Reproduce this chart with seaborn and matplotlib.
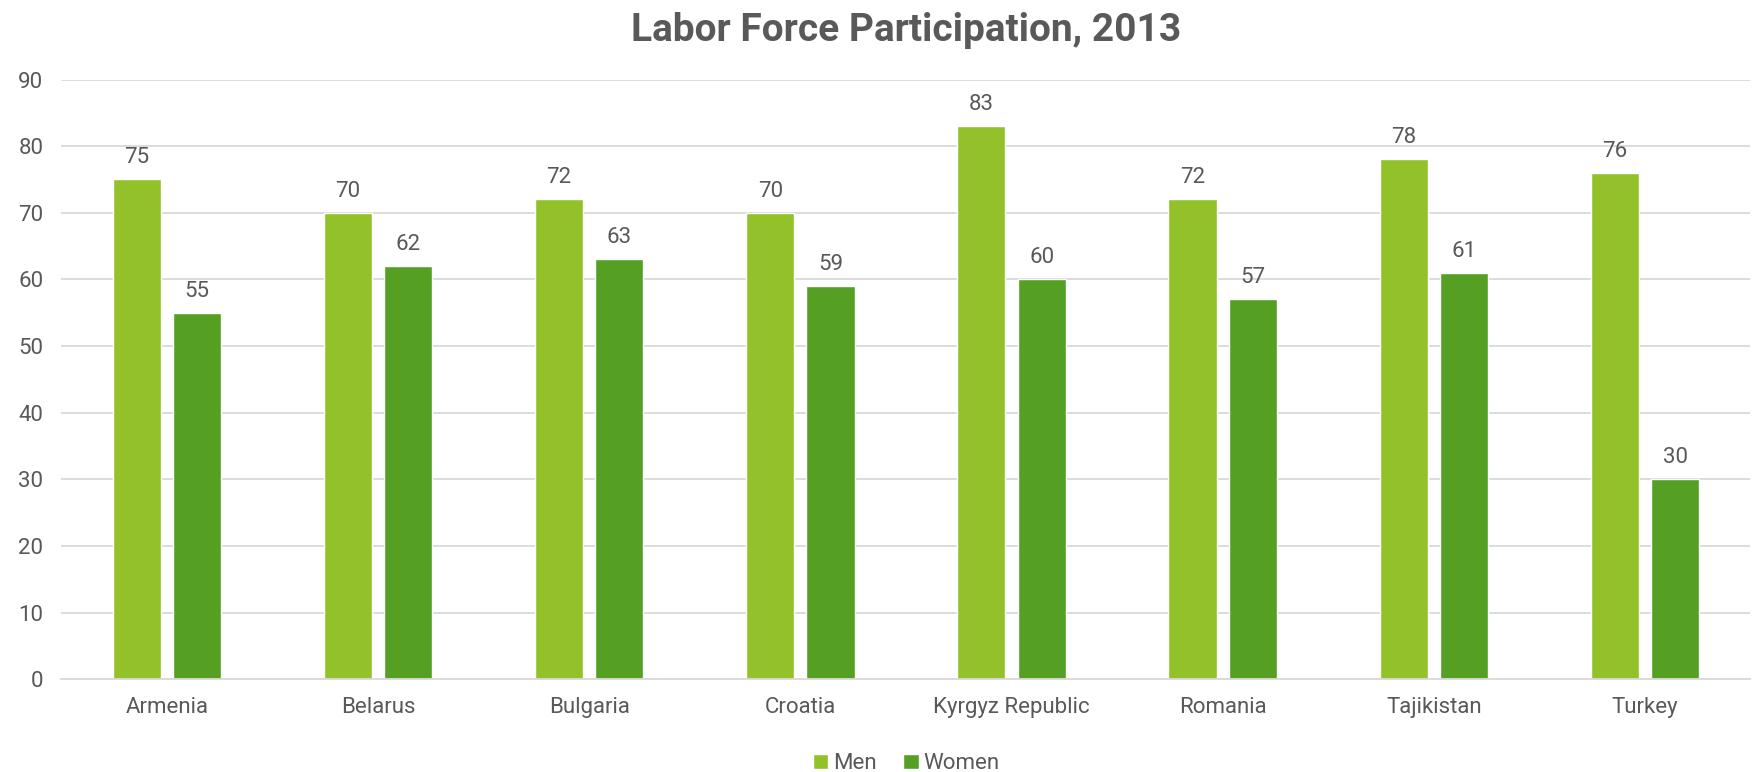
import numpy as np
import matplotlib.pyplot as plt
import pandas as pd
import seaborn as sns

# data
countries = ['Armenia', 'Belarus', 'Bulgaria', 'Croatia', 'Kyrgyz Republic', 'Romania', 'Tajikistan', 'Turkey']
men = [75, 70, 72, 70, 83, 72, 78, 76]
women = [55, 62, 63, 59, 60, 57, 61, 30]

df = pd.DataFrame({
    'country': countries * 2,
    'value': men + women,
    'sex': ['Men'] * len(countries) + ['Women'] * len(countries),
})

sns.set_theme(style='white')
plt.rcParams['font.family'] = ['Roboto', 'DejaVu Sans']
txt = '#595959'

fig, ax = plt.subplots(figsize=(17.54, 7.72), dpi=100)
fig.subplots_adjust(left=0.035, right=0.998, top=0.897, bottom=0.12)

sns.barplot(data=df, x='country', y='value', hue='sex',
            palette=['#92C12A', '#55A022'], width=0.57, gap=0.2,
            saturation=1, ax=ax)

# labels above bars
for cont in ax.containers:
    ax.bar_label(cont, padding=8, fontsize=16, color=txt)

ax.set_ylim(0, 90)
ax.set_yticks(range(0, 91, 10))
ax.set_xlim(-0.5, len(countries) - 0.5)
ax.yaxis.grid(True, color='#D9D9D9', linewidth=1.3)
ax.set_axisbelow(True)
for s in ['top', 'right', 'left']:
    ax.spines[s].set_visible(False)
ax.spines['bottom'].set_color('#D9D9D9')
ax.spines['bottom'].set_linewidth(1.3)
ax.tick_params(axis='both', length=0, labelsize=16, labelcolor=txt)
ax.tick_params(axis='y', pad=13)
ax.tick_params(axis='x', pad=13)
ax.set_xlabel('')
ax.set_ylabel('')
ax.set_title('Labor Force Participation, 2013', fontsize=28, fontweight=600,
             color=txt, pad=28)

ax.legend(loc='upper center', bbox_to_anchor=(0.5, -0.09), ncol=2, frameon=False,
          fontsize=16, labelcolor=txt, handlelength=0.7, handleheight=0.7,
          handletextpad=0.2, columnspacing=1.2)

plt.savefig('out.png', dpi=100)
